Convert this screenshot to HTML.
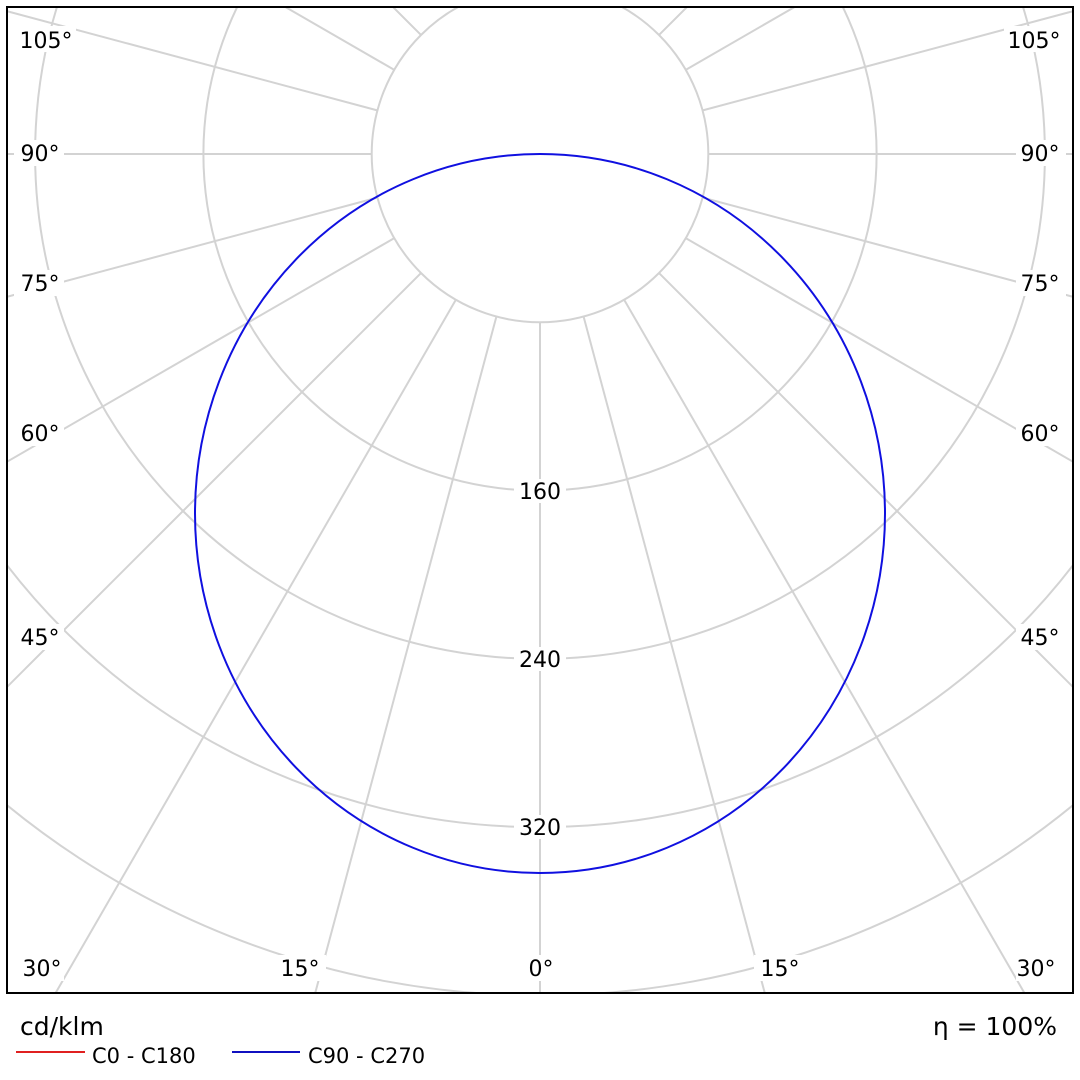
<!DOCTYPE html>
<html><head><style>
html,body{margin:0;padding:0;background:#fff;width:1080px;height:1080px;overflow:hidden;}
svg{display:block;font-family:"DejaVu Sans","Liberation Sans",sans-serif;}
</style></head><body>
<svg width="1080" height="1080" viewBox="0 0 1080 1080" xmlns="http://www.w3.org/2000/svg">
<defs><clipPath id="c"><rect x="7" y="7" width="1066" height="986"/></clipPath></defs>
<g clip-path="url(#c)" stroke="#d3d3d3" stroke-width="2" fill="none">
<circle cx="540" cy="154" r="168.3"/>
<circle cx="540" cy="154" r="336.6"/>
<circle cx="540" cy="154" r="504.9"/>
<circle cx="540" cy="154" r="673.2"/>
<circle cx="540" cy="154" r="841.5"/>
<circle cx="540" cy="154" r="1009.8"/>
<circle cx="540" cy="154" r="1178"/>
<circle cx="540" cy="154" r="1346"/>
<line x1="540" y1="322" x2="540" y2="1654"/>
<line x1="583.5" y1="316.3" x2="928.2" y2="1603"/>
<line x1="624" y1="299.5" x2="1290" y2="1453"/>
<line x1="658.8" y1="272.8" x2="1600.7" y2="1214.7"/>
<line x1="685.5" y1="238" x2="1839" y2="904"/>
<line x1="702.3" y1="197.5" x2="1988.9" y2="542.2"/>
<line x1="708" y1="154" x2="2040" y2="154"/>
<line x1="702.3" y1="110.5" x2="1988.9" y2="-234.2"/>
<line x1="685.5" y1="70" x2="1839" y2="-596"/>
<line x1="658.8" y1="35.2" x2="1600.7" y2="-906.7"/>
<line x1="624" y1="8.5" x2="1290" y2="-1145"/>
<line x1="583.5" y1="-8.3" x2="928.2" y2="-1295"/>
<line x1="496.5" y1="316.3" x2="151.8" y2="1603"/>
<line x1="456" y1="299.5" x2="-210" y2="1453"/>
<line x1="421.2" y1="272.8" x2="-520.7" y2="1214.7"/>
<line x1="394.5" y1="238" x2="-759" y2="904"/>
<line x1="377.7" y1="197.5" x2="-908.9" y2="542.2"/>
<line x1="372" y1="154" x2="-960" y2="154"/>
<line x1="377.7" y1="110.5" x2="-908.9" y2="-234.2"/>
<line x1="394.5" y1="70" x2="-759" y2="-596"/>
<line x1="421.2" y1="35.2" x2="-520.7" y2="-906.7"/>
<line x1="456" y1="8.5" x2="-210" y2="-1145"/>
<line x1="496.5" y1="-8.3" x2="151.8" y2="-1295"/>
</g>
<ellipse cx="540" cy="513.5" rx="345" ry="359.5" fill="none" stroke="#1010e0" stroke-width="2"/>
<g font-size="22" fill="#000" text-anchor="middle">
<g fill="#fff" stroke="none">
<rect x="514" y="479" width="52" height="24"/><rect x="514" y="647" width="52" height="24"/><rect x="514" y="815" width="52" height="24"/>
<rect x="14" y="26" width="62" height="26"/><rect x="14" y="140" width="50" height="26"/><rect x="14" y="270" width="50" height="26"/><rect x="14" y="420" width="50" height="26"/><rect x="14" y="624" width="50" height="26"/><rect x="14" y="955" width="50" height="26"/>
<rect x="1004" y="26" width="62" height="26"/><rect x="1016" y="140" width="50" height="26"/><rect x="1016" y="270" width="50" height="26"/><rect x="1016" y="420" width="50" height="26"/><rect x="1016" y="624" width="50" height="26"/><rect x="1016" y="955" width="50" height="26"/>
<rect x="274" y="955" width="52" height="26"/><rect x="522" y="955" width="38" height="26"/><rect x="754" y="955" width="52" height="26"/>
</g>
<text x="540" y="499">160</text><text x="540" y="667">240</text><text x="540" y="835">320</text>
<text x="46" y="48">105°</text><text x="40" y="161">90°</text><text x="40" y="291">75°</text><text x="40" y="441">60°</text><text x="40" y="645">45°</text><text x="42" y="976">30°</text>
<text x="1034" y="48">105°</text><text x="1040" y="161">90°</text><text x="1040" y="291">75°</text><text x="1040" y="441">60°</text><text x="1040" y="645">45°</text><text x="1036" y="976">30°</text>
<text x="300" y="976">15°</text><text x="541" y="976">0°</text><text x="780" y="976">15°</text>
</g>
<rect x="7" y="7" width="1066" height="986" fill="none" stroke="#000" stroke-width="2"/>
<text x="20" y="1035" font-size="25" fill="#000">cd/klm</text>
<text x="1057" y="1035" font-size="25" fill="#000" text-anchor="end">η = 100%</text>
<line x1="16" y1="1052" x2="85" y2="1052" stroke="#e02020" stroke-width="2"/>
<text x="92" y="1063" font-size="21" fill="#000">C0 - C180</text>
<line x1="232" y1="1052" x2="300" y2="1052" stroke="#1010c0" stroke-width="2"/>
<text x="308" y="1063" font-size="21" fill="#000">C90 - C270</text>
</svg>
</body></html>
